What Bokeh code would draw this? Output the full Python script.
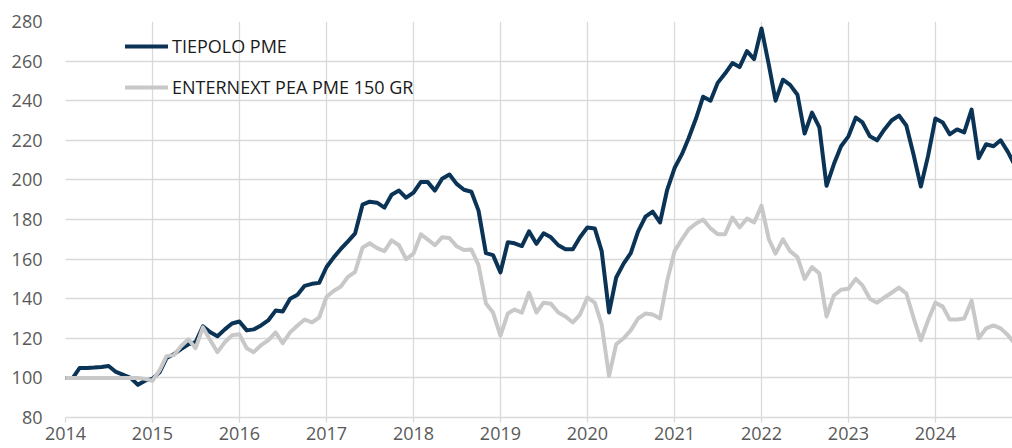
import pandas as pd
from bokeh.plotting import figure
from bokeh.models import (FixedTicker, Legend, LegendItem, DatetimeTickFormatter,
                          Range1d, ColumnDataSource)
from bokeh.embed import file_html
from bokeh.resources import INLINE

# ---------------- data (monthly, Jan 2014 - Dec 2024) ----------------
start_month = "2014-01-01"
n_months = 132

tiepolo_pme = [
    100, 100, 105, 105, 105.2, 105.5, 106, 103, 101.5, 100, 96.5, 98.6,          # 2014
    99.5, 103, 110, 112, 114.5, 117, 118, 126, 123, 121, 124.5, 127.5,            # 2015
    128.5, 124, 124.5, 126.5, 129, 134, 133.5, 140, 142, 146.5, 147.5, 148,       # 2016
    156, 161, 165, 169, 173, 187.5, 189, 188.5, 186, 192.5, 194.6, 191,           # 2017
    193.6, 199, 199, 194.6, 200.6, 202.7, 198, 195, 194, 184.5, 163, 162,         # 2018
    153.3, 168.5, 168, 166.6, 174, 167.7, 173, 171, 167, 165, 165, 171,           # 2019
    176, 175.5, 164, 133, 150.7, 157.7, 163, 174, 181.5, 184, 178.5, 195,         # 2020
    206, 213, 221, 231, 242, 240, 249, 253.7, 259, 257, 265, 261,                 # 2021
    276.5, 258, 240, 250.6, 248, 243, 223.4, 234, 226.5, 197, 208, 217,           # 2022
    222, 231.5, 229, 222, 220, 225.5, 230, 232.5, 227.5, 213, 196.7, 212,         # 2023
    231, 229, 223, 225.5, 224, 235.5, 211, 218, 217, 220, 214, 207,               # 2024
]

enternext_pea_pme_150_gr = [
    100, 100, 100, 100, 100, 100, 100, 100, 100, 100, 100, 99.5,                  # 2014
    98.5, 104, 111, 111.5, 116, 119.5, 115, 125.5, 119, 113, 118, 121.5,          # 2015
    122, 115, 113, 116.5, 119, 123, 117.5, 123, 126.5, 129.5, 128, 130.5,         # 2016
    141, 144, 146, 151, 153.6, 165.8, 168, 165.5, 164, 169.5, 167, 160,           # 2017
    162.8, 172.5, 170, 167, 171, 170.6, 166.5, 164.6, 164.8, 157, 137.6, 133,     # 2018
    121.4, 132.5, 134.5, 133, 143, 133, 138, 137.4, 133, 131, 128, 132,           # 2019
    140.6, 138, 127, 101, 117, 120, 124, 130, 132.5, 132, 130, 149,               # 2020
    164, 170, 175, 178, 180, 175.5, 172.6, 172.6, 181, 176, 180.5, 178.5,         # 2021
    187, 170, 162.8, 170, 164, 161, 150, 156, 152.7, 131, 141.6, 144.5,           # 2022
    145, 150, 146.7, 140, 138, 140.6, 143, 145.6, 142.6, 130.5, 119, 129,         # 2023
    138, 136, 129.5, 129.5, 130, 139, 120, 125, 126.5, 125, 121.5, 117,           # 2024
]

series_names = ["TIEPOLO PME", "ENTERNEXT PEA PME 150 GR"]
year_ticks = list(range(2014, 2025))
y_ticks = list(range(80, 281, 20))

# ---------------- figure ----------------
dates = pd.date_range(start_month, periods=n_months, freq="MS")
src = ColumnDataSource(dict(date=dates, tiepolo=tiepolo_pme, enternext=enternext_pea_pme_150_gr))

x_start = pd.Timestamp("2014-01-01")
x_end = x_start + pd.Timedelta(days=10.885 * 365.25)

p = figure(width=1012, height=448, x_axis_type="datetime",
           x_range=Range1d(x_start, x_end), y_range=Range1d(80, 280),
           output_backend="svg", toolbar_location=None,
           min_border_left=65, min_border_right=0, min_border_top=21, min_border_bottom=31)
p.outline_line_color = None
p.background_fill_color = "white"

r1 = p.line("date", "tiepolo", source=src, line_color="#0a3355", line_width=4,
            line_join="round", line_cap="round")
r2 = p.line("date", "enternext", source=src, line_color="#c8c8c8", line_width=4,
            line_join="round", line_cap="round")

tick_ms = [pd.Timestamp(f"{y}-01-01").value // 10**6 for y in year_ticks]
p.xaxis.ticker = FixedTicker(ticks=tick_ms)
p.xaxis.formatter = DatetimeTickFormatter(years="%Y", months="%Y", days="%Y",
                                          hours="%Y", minutes="%Y", seconds="%Y",
                                          milliseconds="%Y", microseconds="%Y")
p.yaxis.ticker = FixedTicker(ticks=y_ticks)

for ax in (p.xaxis, p.yaxis):
    ax.major_label_text_font = "Open Sans"
    ax.major_label_text_font_size = "18px"
    ax.major_label_text_color = "#595959"
    ax.minor_tick_line_color = None
    ax.major_tick_in = 0

p.xaxis.axis_line_color = "#d9d9d9"
p.xaxis.axis_line_width = 1.3
p.xaxis.major_tick_line_color = "#d9d9d9"
p.xaxis.major_tick_line_width = 1.3
p.xaxis.major_tick_out = 5
p.xaxis.major_label_standoff = 4

p.yaxis.axis_line_color = None
p.yaxis.major_tick_line_color = None
p.yaxis.major_tick_out = 0
p.yaxis.major_label_standoff = 23

p.xgrid.grid_line_color = "#d9d9d9"
p.ygrid.grid_line_color = "#d9d9d9"
p.xgrid.grid_line_width = 1.3
p.ygrid.grid_line_width = 1.3

legend = Legend(items=[LegendItem(label=series_names[0], renderers=[r1]),
                       LegendItem(label=series_names[1], renderers=[r2])],
                location=(60, 318), glyph_width=43, glyph_height=20,
                label_standoff=4, spacing=17, padding=0, margin=0,
                border_line_color=None, background_fill_alpha=0,
                label_text_font="Open Sans", label_text_font_size="18px",
                label_text_color="#1a1a1a")
p.add_layout(legend)

open("out.html", "w").write(file_html(p, INLINE))
